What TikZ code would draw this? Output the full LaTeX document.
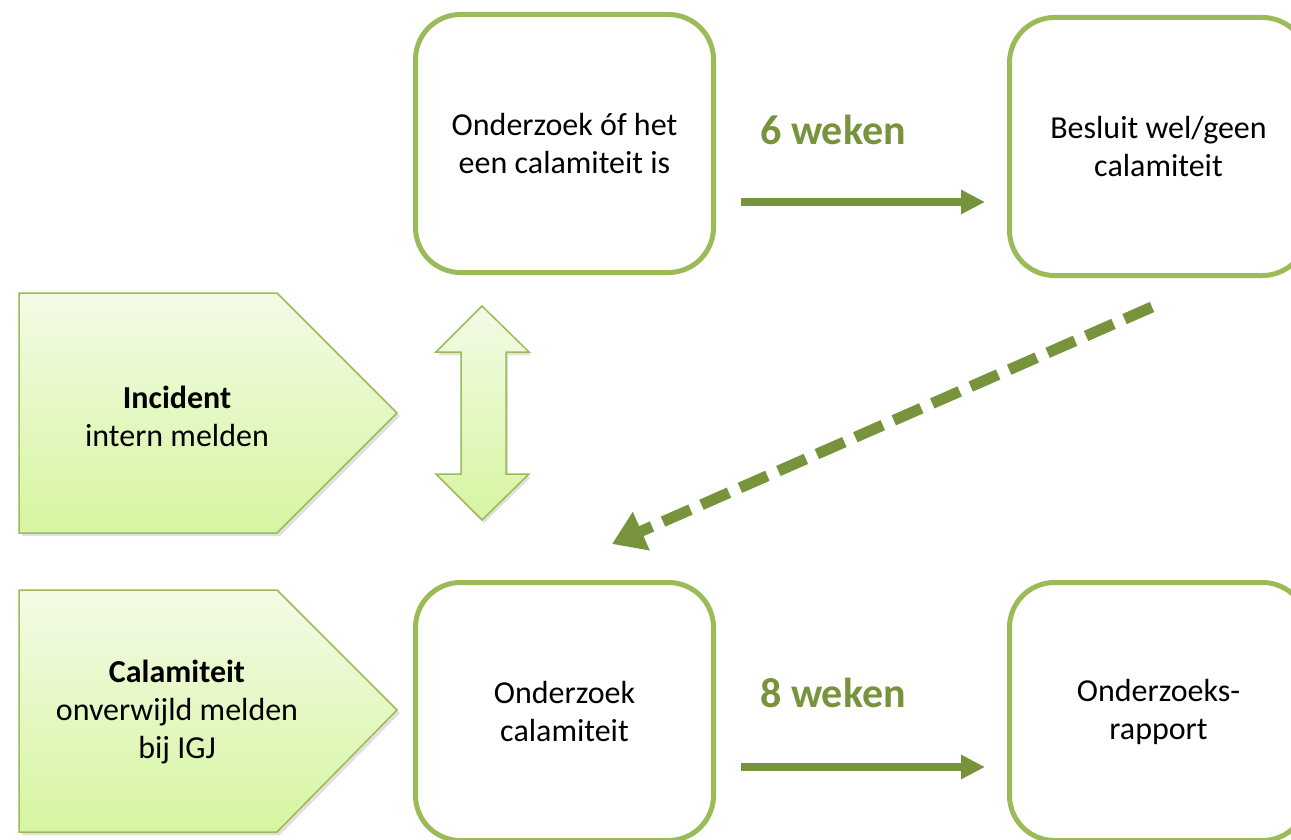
\documentclass[tikz,border=0pt]{standalone}
\usepackage{fontspec}
\setmainfont{Carlito}
\usetikzlibrary{arrows.meta}
\definecolor{boxgreen}{HTML}{9BBB59}
\definecolor{arrgreen}{HTML}{77933C}
\definecolor{ltop}{HTML}{F3FBE6}
\definecolor{lbot}{HTML}{D6F5A0}
\begin{document}
\begin{tikzpicture}[x=1pt,y=-1pt,
  roundbox/.style={draw=boxgreen, line width=5pt, rounded corners=45pt, fill=white,
    minimum width=298pt, minimum height=258pt, align=center,
    font=\fontsize{32}{38}\selectfont, inner sep=0pt},
  lbl/.style={align=center, font=\fontsize{32}{38}\selectfont, inner sep=0pt},
  weeks/.style={font=\fontsize{42}{44}\selectfont\bfseries, text=arrgreen, inner sep=0pt},
  flow/.style={draw=arrgreen, line width=8pt, -{Triangle[length=24pt,width=23pt]}},
  dflow/.style={draw=arrgreen, line width=11pt, dash pattern=on 30pt off 12pt,
    -{Triangle[length=32pt,width=40pt]}},
  lightshape/.style={draw=boxgreen, line width=1.5pt, top color=ltop, bottom color=lbot},
  shadowshape/.style={fill=black, opacity=0.12}
]
\useasboundingbox (0,0) rectangle (1291,840);

% pentagons
\fill[shadowshape] (22,296) -- (280,296) -- (400,416) -- (280,536) -- (22,536) -- cycle;
\path[lightshape] (19,293) -- (277,293) -- (397,413) -- (277,533) -- (19,533) -- cycle;
\node[lbl] (inc) at (177,416) {\textbf{Incident}\\intern melden};

\fill[shadowshape] (22,593) -- (280,593) -- (400,713) -- (280,835) -- (22,835) -- cycle;
\path[lightshape] (19,590) -- (277,590) -- (397,710) -- (277,832) -- (19,832) -- cycle;
\node[lbl] (cal) at (177,712) {\textbf{Calamiteit}\\onverwijld melden\\bij IGJ};

% double arrow
\fill[shadowshape] (484,309) -- (531,355) -- (508,355) -- (508,477) -- (531,477) -- (484,523) -- (438,477) -- (463,477) -- (463,355) -- (438,355) -- cycle;
\path[lightshape] (482,306) -- (529,352) -- (506,352) -- (506,474) -- (529,474) -- (482,520) -- (436,474) -- (461,474) -- (461,352) -- (436,352) -- cycle;

% boxes
\node[roundbox] (b1) at (564.5,143.5) {Onderzoek óf het\\een calamiteit is};
\node[roundbox] (b2) at (1158.5,146.5) {Besluit wel/geen\\calamiteit};
\node[roundbox] (b3) at (564.5,711.5) {Onderzoek\\calamiteit};
\node[roundbox] (b4) at (1158.5,711.5) {Onderzoeks-\\rapport};

% labels
\node[weeks] (w6) at (833,130) {6 weken};
\node[weeks] (w8) at (833,693) {8 weken};

% arrows
\coordinate (a1s) at ([xshift=25pt]b1.east |- 0,202);
\coordinate (a1e) at (985,202);
\draw[flow] (a1s) -- (a1e);
\coordinate (a2s) at ([xshift=25pt]b3.east |- 0,767);
\coordinate (a2e) at (985,767);
\draw[flow] (a2s) -- (a2e);

\coordinate (ds) at (1152,307);
\coordinate (de) at (612,544);
\draw[dflow] (ds) -- (de);
\end{tikzpicture}
\end{document}
